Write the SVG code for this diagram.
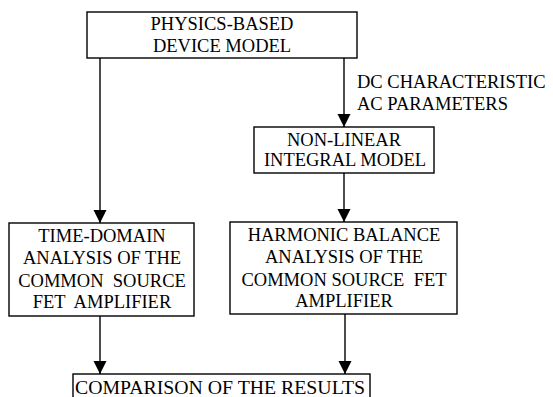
<svg xmlns="http://www.w3.org/2000/svg" width="553" height="397" viewBox="0 0 553 397" font-family="'Liberation Serif', 'DejaVu Serif', serif">
<defs>
<style>
.box{fill:#fff;stroke:#000;stroke-width:1.4}
text{font-family:'Liberation Serif','DejaVu Serif',serif;font-size:18.5px;fill:#000}
.t{text-anchor:middle}
.c{stroke:#000;stroke-width:1.4;fill:none;marker-end:url(#ah)}
</style>
<marker id="ah" markerUnits="userSpaceOnUse" markerWidth="14" markerHeight="14" refX="13" refY="6.5" orient="auto">
<path d="M0,0 L13,6.5 L0,13 z" fill="#000"/>
</marker>
</defs>
<rect width="553" height="397" fill="#fff"/>
<g id="connectors">
<line class="c" x1="100" y1="58" x2="100" y2="223"/>
<line class="c" x1="344" y1="58" x2="344" y2="127"/>
<line class="c" x1="344" y1="173" x2="344" y2="222"/>
<line class="c" x1="100" y1="316" x2="100" y2="374"/>
<line class="c" x1="345" y1="314" x2="345" y2="374"/>
<text x="357" y="88">DC CHARACTERISTIC</text>
<text x="357" y="110">AC PARAMETERS</text>
</g>
<g id="physics">
<rect class="box" x="87" y="12" width="270" height="46"/>
<text class="t" x="222" y="30">PHYSICS-BASED</text>
<text class="t" x="222" y="52">DEVICE MODEL</text>
</g>
<g id="nonlinear">
<rect class="box" x="254" y="127" width="180" height="46"/>
<text class="t" x="344" y="146">NON-LINEAR</text>
<text class="t" x="345" y="166">INTEGRAL MODEL</text>
</g>
<g id="timedomain">
<rect class="box" x="9" y="223" width="185" height="93"/>
<text class="t" x="102" y="242">TIME-DOMAIN</text>
<text class="t" x="102" y="264">ANALYSIS OF THE</text>
<text class="t" x="102" y="287" xml:space="preserve">COMMON  SOURCE</text>
<text class="t" x="102" y="308" xml:space="preserve">FET  AMPLIFIER</text>
</g>
<g id="harmonic">
<rect class="box" x="230" y="222" width="227" height="92"/>
<text class="t" x="344" y="241">HARMONIC BALANCE</text>
<text class="t" x="344" y="263">ANALYSIS OF THE</text>
<text class="t" x="344" y="286" xml:space="preserve">COMMON SOURCE  FET</text>
<text class="t" x="344" y="307">AMPLIFIER</text>
</g>
<g id="comparison">
<rect class="box" x="73" y="374" width="297" height="30"/>
<text class="t" x="220" y="394" style="font-size:19.8px">COMPARISON OF THE RESULTS</text>
</g>
</svg>
